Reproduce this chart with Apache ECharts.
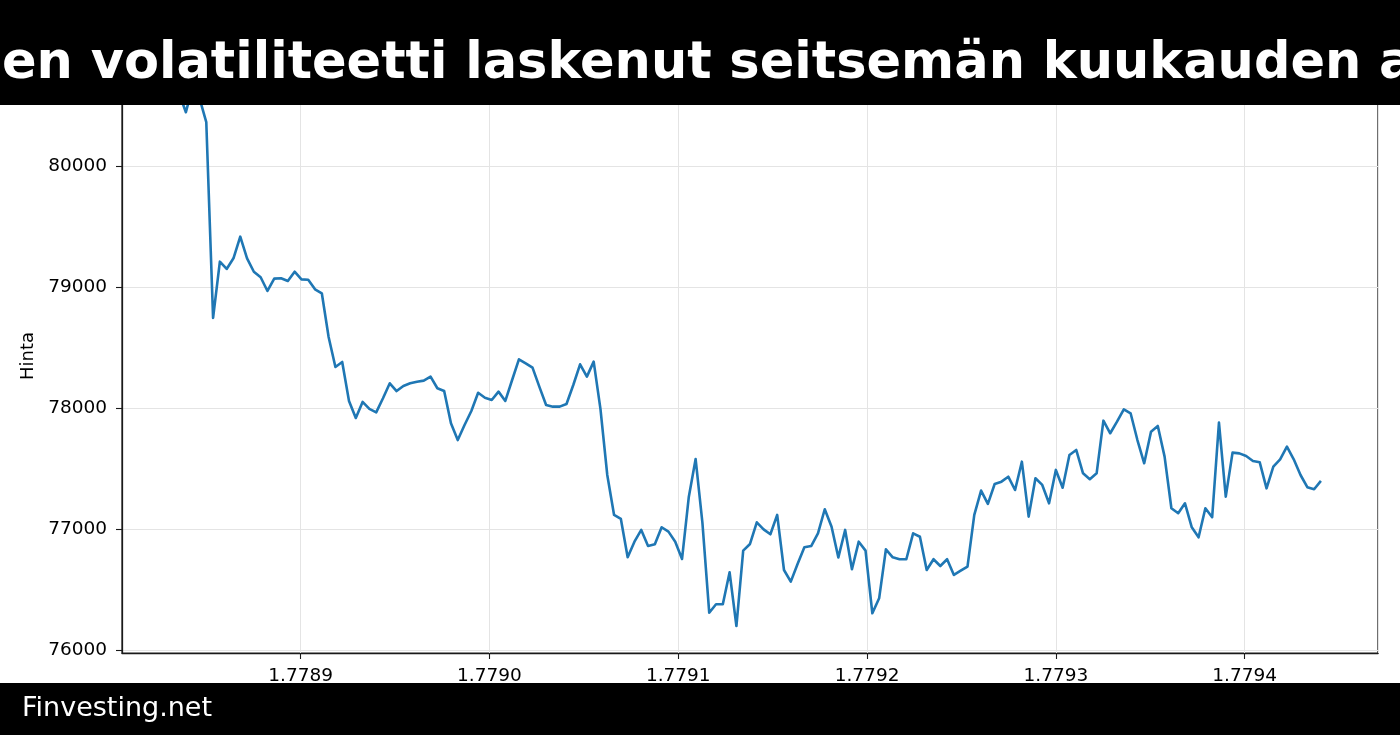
<!DOCTYPE html>
<html>
<head>
<meta charset="utf-8">
<script src="https://cdn.jsdelivr.net/npm/echarts@6/dist/echarts.min.js"></script>
<style>
html,body{margin:0;padding:0;background:#fff;}
#chart{width:1400px;height:735px;}
</style>
</head>
<body>
<div id="chart"></div>
<script>
// Hourly data: start time (unix seconds) and step
const startTime = 1778835600;
const stepSeconds = 3600;

// Price values (Hinta), one per hour
const prices = [
  80600, 80444, 80660, 80560, 80363, 78744, 79209, 79149, 79237, 79416,
  79237, 79126, 79080, 78967, 79069, 79072, 79049, 79126, 79063, 79060,
  78981, 78948, 78587, 78339, 78380, 78058, 77917, 78050, 77992, 77964,
  78080, 78204, 78140, 78182, 78204, 78217, 78226, 78259, 78163, 78140,
  77873, 77735, 77859, 77975, 78126, 78085, 78066, 78135, 78058, 78231,
  78402, 78369, 78333, 78176, 78025, 78011, 78011, 78033, 78190, 78361,
  78259, 78383, 77990, 77446, 77116, 77083, 76766, 76895, 76992, 76859,
  76873, 77014, 76978, 76895, 76752, 77267, 77578, 77050, 76308, 76378,
  76378, 76642, 76198, 76821, 76876, 77055, 76997, 76956, 77116, 76661,
  76565, 76711, 76849, 76859, 76964, 77163, 77019, 76765, 76992, 76667,
  76895, 76821, 76303, 76427, 76832, 76766, 76750, 76750, 76964, 76936,
  76661, 76750, 76694, 76750, 76620, 76655, 76689, 77116, 77317, 77207,
  77372, 77391, 77432, 77322, 77556, 77102, 77419, 77364, 77212, 77488,
  77341, 77611, 77653, 77460, 77411, 77460, 77895, 77791, 77887, 77989,
  77956, 77735, 77543, 77804, 77851, 77598, 77171, 77130, 77212, 77014,
  76931, 77171, 77097, 77879, 77267, 77631, 77625, 77603, 77562, 77551,
  77336, 77515, 77576, 77680, 77576, 77446, 77345, 77328, 77397
];

const titleText = "en volatiliteetti laskenut seitsemän kuukauden alimmalle tasolle";
const footerText = "Finvesting.net";
const yAxisName = "Hinta";

const times = prices.map((_, i) => startTime + i * stepSeconds);
const seriesData = times.map((t, i) => [t, prices[i]]);

const span = times[times.length - 1] - times[0];
const xMin = times[0] - span * 0.05;
const xMax = times[times.length - 1] + span * 0.05;

const chart = echarts.init(document.getElementById('chart'), null, {renderer: 'canvas'});
const font = "'DejaVu Sans', sans-serif";

chart.setOption({
  animation: false,
  backgroundColor: '#ffffff',
  grid: {
    left: 122, right: 22, top: 59, bottom: 82,
    containLabel: false,
    outerBoundsMode: 'none',
    show: true,
    backgroundColor: '#ffffff',
    borderColor: '#1a1a1a',
    borderWidth: 1.25
  },
  xAxis: {
    type: 'value',
    min: xMin,
    max: xMax,
    splitNumber: 5,
    minInterval: 100000,
    maxInterval: 100000,
    axisLine: {show: true, onZero: false, lineStyle: {color: '#1a1a1a', width: 1.25}},
    axisTick: {show: true, length: 6, lineStyle: {color: '#1a1a1a', width: 1.1}},
    axisLabel: {
      show: true, margin: 14, color: '#000', fontFamily: font, fontSize: 18.5,
      showMinLabel: false, showMaxLabel: false,
      formatter: v => (v / 1e9).toFixed(4)
    },
    splitLine: {show: true, lineStyle: {color: '#e4e4e4', width: 1}}
  },
  yAxis: {
    type: 'value',
    min: 75975,
    max: 80884,
    splitNumber: 5,
    minInterval: 1000,
    maxInterval: 1000,
    name: yAxisName,
    nameLocation: 'middle',
    nameGap: 84,
    nameRotate: 90,
    nameTextStyle: {color: '#000', fontFamily: font, fontSize: 18},
    axisLine: {show: true, lineStyle: {color: '#1a1a1a', width: 1.25}},
    axisTick: {show: true, length: 6, lineStyle: {color: '#1a1a1a', width: 1.1}},
    axisLabel: {
      show: true, margin: 15, color: '#000', fontFamily: font, fontSize: 18.5,
      showMinLabel: false, showMaxLabel: false,
      formatter: v => String(Math.round(v))
    },
    splitLine: {show: true, lineStyle: {color: '#e4e4e4', width: 1}}
  },
  series: [{
    type: 'line',
    data: seriesData,
    showSymbol: false,
    symbol: 'none',
    clip: true,
    lineStyle: {color: '#1f77b4', width: 2.6, join: 'round'},
    z: 3
  }],
  graphic: [
    {
      type: 'rect', z: 100, silent: true,
      shape: {x: 0, y: 0, width: 1400, height: 105},
      style: {fill: '#000'}
    },
    {
      type: 'text', z: 101, silent: true,
      x: 2, y: 65,
      style: {
        text: titleText, fill: '#fff',
        font: "bold 51px 'DejaVu Sans', sans-serif",
        textAlign: 'left', textVerticalAlign: 'middle'
      }
    },
    {
      type: 'rect', z: 100, silent: true,
      shape: {x: 0, y: 683, width: 1400, height: 52},
      style: {fill: '#000'}
    },
    {
      type: 'text', z: 101, silent: true,
      x: 22, y: 709,
      style: {
        text: footerText, fill: '#fff',
        font: "27px 'DejaVu Sans', sans-serif",
        textAlign: 'left', textVerticalAlign: 'middle'
      }
    }
  ]
});
</script>
</body>
</html>
